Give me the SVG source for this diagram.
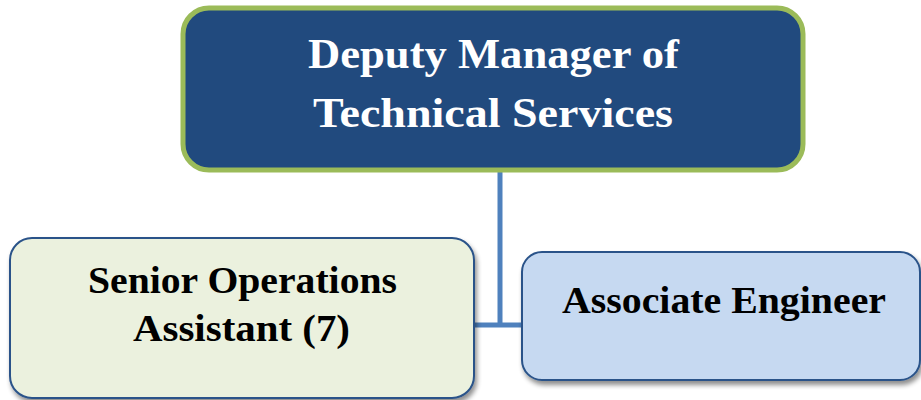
<svg xmlns="http://www.w3.org/2000/svg" width="921" height="400" viewBox="0 0 921 400">
<style>
.t{font-family:"Liberation Serif","DejaVu Serif",serif;font-weight:bold;text-anchor:middle}
.w{fill:#ffffff;font-size:43px}
.k{fill:#000000;font-size:38px}
.box{stroke:#2A5389;stroke-width:2}
</style>
<defs>
<filter id="sh" x="-5%" y="-5%" width="112%" height="120%">
<feGaussianBlur in="SourceAlpha" stdDeviation="2.5"/>
<feOffset dx="2" dy="4" result="b"/>
<feComponentTransfer><feFuncA type="linear" slope="0.45"/></feComponentTransfer>
<feMerge><feMergeNode/><feMergeNode in="SourceGraphic"/></feMerge>
</filter>
</defs>
<rect width="921" height="400" fill="#ffffff"/>
<g id="connectors" stroke="#4F81BD" stroke-width="5" fill="none">
<line x1="500" y1="170" x2="500" y2="327"/>
<line x1="474" y1="325" x2="523" y2="325"/>
</g>
<g id="node-deputy">
<rect x="183" y="8" width="620" height="162" rx="26" fill="#214A7E" stroke="#9BBB59" stroke-width="5"/>
<text class="t w" x="493.5" y="68" textLength="371" lengthAdjust="spacingAndGlyphs">Deputy Manager of</text>
<text class="t w" x="493" y="127" textLength="360" lengthAdjust="spacingAndGlyphs">Technical Services</text>
</g>
<g id="node-senior">
<rect class="box" x="10" y="238" width="464" height="160" rx="22" fill="#EBF1DE" filter="url(#sh)"/>
<text class="t k" x="242.5" y="293" textLength="309" lengthAdjust="spacingAndGlyphs">Senior Operations</text>
<text class="t k" x="241.5" y="341" textLength="217" lengthAdjust="spacingAndGlyphs">Assistant (7)</text>
</g>
<g id="node-associate">
<rect class="box" x="522" y="252" width="398" height="128" rx="20" fill="#C6D9F1" filter="url(#sh)"/>
<text class="t k" x="724" y="313" textLength="324" lengthAdjust="spacingAndGlyphs">Associate Engineer</text>
</g>
</svg>
